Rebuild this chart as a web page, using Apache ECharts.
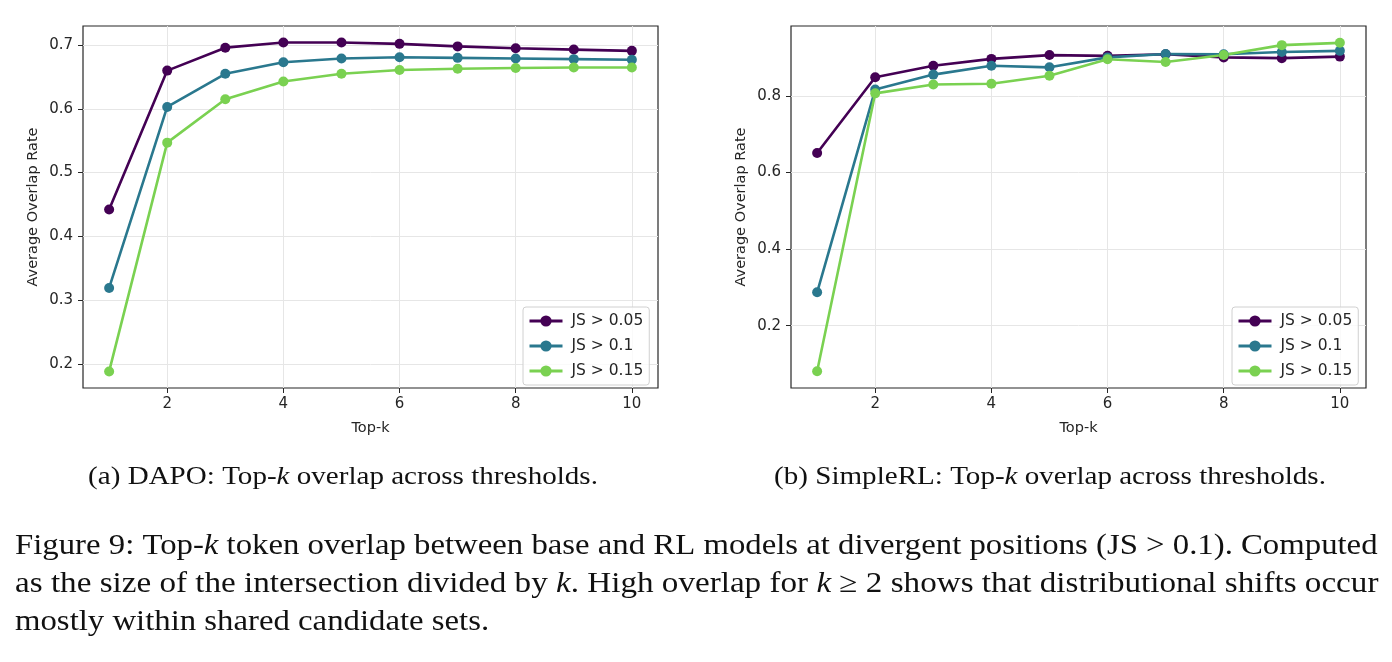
<!DOCTYPE html>
<html>
<head>
<meta charset="utf-8">
<script src="https://cdn.jsdelivr.net/npm/echarts@6/dist/echarts.min.js"></script>
<style>
html,body{margin:0;padding:0;background:#fff;}
#c{width:1392px;height:662px;}
</style>
</head>
<body>
<div id="c"></div>
<script>
// ---- data ----
const topK = [1, 2, 3, 4, 5, 6, 7, 8, 9, 10];
const seriesNames = ['JS > 0.05', 'JS > 0.1', 'JS > 0.15'];
const dapo05 = [0.442, 0.660, 0.696, 0.704, 0.704, 0.702, 0.698, 0.695, 0.693, 0.691];
const dapo10 = [0.319, 0.603, 0.655, 0.673, 0.679, 0.681, 0.680, 0.679, 0.678, 0.677];
const dapo15 = [0.188, 0.547, 0.615, 0.643, 0.655, 0.661, 0.663, 0.664, 0.665, 0.665];
const srl05 = [0.651, 0.849, 0.879, 0.897, 0.907, 0.905, 0.909, 0.901, 0.899, 0.903];
const srl10 = [0.287, 0.817, 0.856, 0.879, 0.875, 0.901, 0.910, 0.909, 0.915, 0.918];
const srl15 = [0.081, 0.807, 0.830, 0.832, 0.853, 0.896, 0.889, 0.907, 0.933, 0.939];
const xTicks = [2, 4, 6, 8, 10];
const dapoYTicks = [0.2, 0.3, 0.4, 0.5, 0.6, 0.7];
const srlYTicks = [0.2, 0.4, 0.6, 0.8];

const colors = ['#440154', '#2a788e', '#7ad151'];
const axisColor = '#262626';
const gridColor = '#e6e6e6';
const sans = 'DejaVu Sans';
const serif = 'Liberation Serif';

function xAxis(gi) {
  return {
    type: 'value', gridIndex: gi, min: 0.55, max: 10.45,
    name: 'Top-k', nameLocation: 'middle', nameGap: 33,
    nameTextStyle: {fontFamily: sans, fontSize: 14.5, color: axisColor},
    axisLine: {show: false},
    axisTick: {show: true, length: 5, customValues: xTicks, lineStyle: {color: axisColor, width: 1}},
    axisLabel: {customValues: xTicks, fontFamily: sans, fontSize: 15, color: axisColor, margin: 9},
    splitLine: {show: true, lineStyle: {color: gridColor, width: 1}}
  };
}
function yAxis(gi, min, max, ticks) {
  return {
    type: 'value', gridIndex: gi, min: min, max: max,
    name: 'Average Overlap Rate', nameLocation: 'middle', nameGap: 42,
    nameTextStyle: {fontFamily: sans, fontSize: 14.5, color: axisColor},
    axisLine: {show: false},
    axisTick: {show: true, length: 5, customValues: ticks, lineStyle: {color: axisColor, width: 1}},
    axisLabel: {customValues: ticks, fontFamily: sans, fontSize: 15, color: axisColor, margin: 10,
      formatter: v => v.toFixed(1)},
    splitLine: {show: true, lineStyle: {color: gridColor, width: 1}}
  };
}
function pairs(vals) { return topK.map((k, i) => [k, vals[i]]); }
function line(name, vals, gi, ci) {
  return {
    type: 'line', name: name, xAxisIndex: gi, yAxisIndex: gi,
    data: pairs(vals), symbol: 'circle', symbolSize: 10, showSymbol: true,
    lineStyle: {width: 2.6, color: colors[ci]}, itemStyle: {color: colors[ci]},
    emphasis: {disabled: true}
  };
}
function legend(left) {
  return {
    orient: 'vertical', left: left, top: 307, data: seriesNames,
    itemWidth: 33, itemHeight: 14, itemGap: 9,
    padding: [6, 6, 6, 5],
    lineStyle: {width: 3},
    backgroundColor: 'rgba(255,255,255,0.8)', borderColor: '#d0d0d0', borderWidth: 1, borderRadius: 3,
    textStyle: {fontFamily: sans, fontSize: 15.5, color: axisColor, padding: [0, 0, 0, 4]},
    selectedMode: false
  };
}
const subCap = {fontFamily: serif, fontSize: 25.5, fill: '#111'};
const bodyCap = {fontFamily: serif, fontSize: 29, fill: '#111'};
function cap(text, x, y, base, align, sx) {
  return {
    type: 'text', x: x, y: y, scaleX: sx, scaleY: 1,
    style: {
      text: text,
      rich: {n: base, i: Object.assign({}, base, {fontStyle: 'italic'})},
      align: align, verticalAlign: 'middle'
    }
  };
}

const chart = echarts.init(document.getElementById('c'), null, {renderer: 'canvas'});
chart.setOption({
  animation: false,
  backgroundColor: '#fff',
  grid: [
    {left: 83, top: 26, width: 575, height: 362, show: true, borderColor: axisColor, borderWidth: 1.2, backgroundColor: 'transparent'},
    {left: 791, top: 26, width: 575, height: 362, show: true, borderColor: axisColor, borderWidth: 1.2, backgroundColor: 'transparent'}
  ],
  xAxis: [xAxis(0), xAxis(1)],
  yAxis: [yAxis(0, 0.162, 0.730, dapoYTicks), yAxis(1, 0.037, 0.983, srlYTicks)],
  legend: [legend(523), legend(1232)],
  series: [
    line(seriesNames[0], dapo05, 0, 0),
    line(seriesNames[1], dapo10, 0, 1),
    line(seriesNames[2], dapo15, 0, 2),
    line(seriesNames[0], srl05, 1, 0),
    line(seriesNames[1], srl10, 1, 1),
    line(seriesNames[2], srl15, 1, 2)
  ],
  graphic: [
    cap('{n|(a) DAPO: Top-}{i|k}{n| overlap across thresholds.}', 343, 477, subCap, 'center', 1.14),
    cap('{n|(b) SimpleRL: Top-}{i|k}{n| overlap across thresholds.}', 1050, 477, subCap, 'center', 1.14),
    cap('{n|Figure 9: Top-}{i|k}{n| token overlap between base and RL models at divergent positions (JS > 0.1). Computed}', 15, 546, bodyCap, 'left', 1.13),
    cap('{n|as the size of the intersection divided by }{i|k}{n|. High overlap for }{i|k}{n| ≥ 2 shows that distributional shifts occur}', 15, 584, bodyCap, 'left', 1.1425),
    cap('{n|mostly within shared candidate sets.}', 15, 622, bodyCap, 'left', 1.13)
  ]
});
</script>
</body>
</html>
